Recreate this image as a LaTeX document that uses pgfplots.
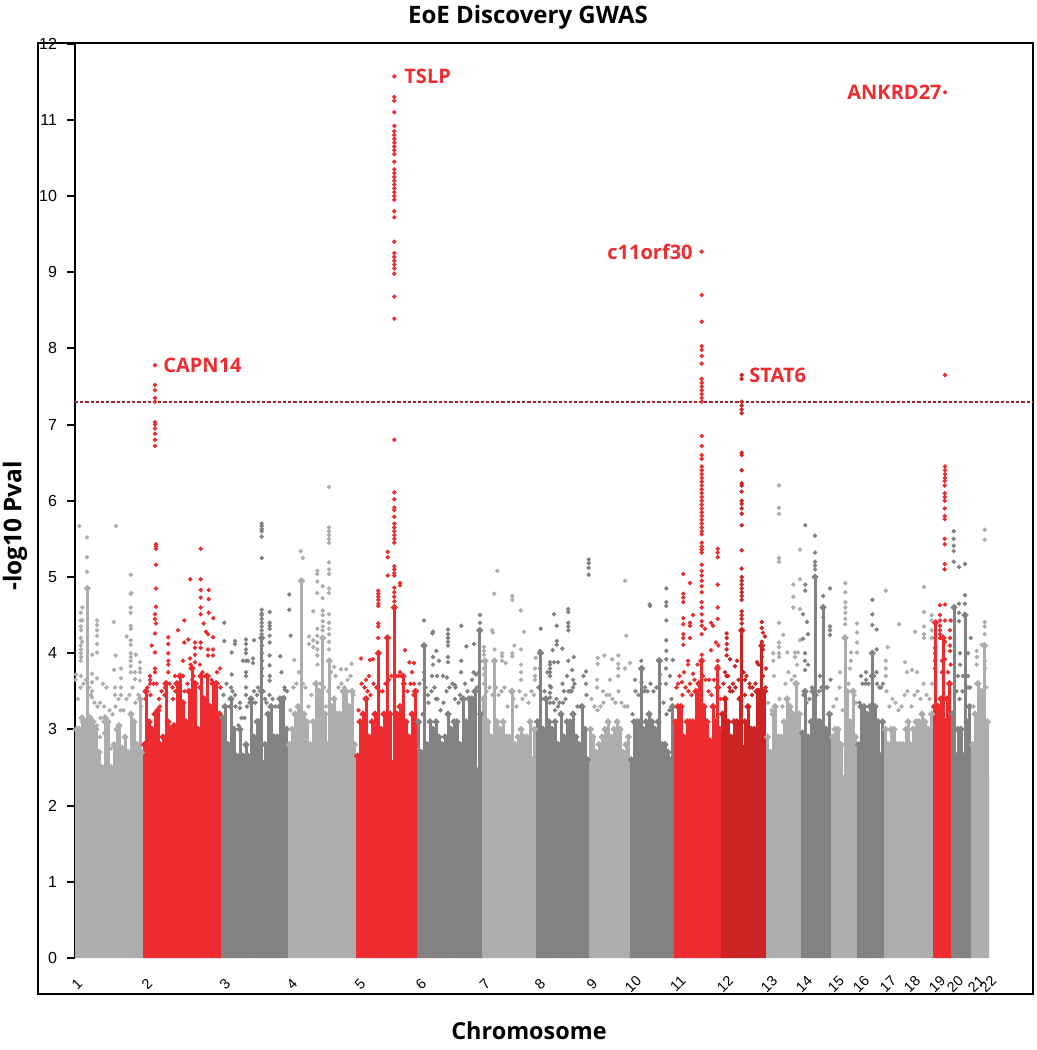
\documentclass[border=0pt]{standalone}
\usepackage{pgfplots}
\pgfplotsset{compat=1.18}
\usepackage{fontspec}
\setmainfont{Liberation Sans}
\newfontfamily\myr{Open Sans}
\definecolor{lg}{HTML}{ADADAD}
\definecolor{dg}{HTML}{828282}
\definecolor{rd}{HTML}{EE2C2F}
\definecolor{dr}{HTML}{CC2424}
\definecolor{thr}{HTML}{A5262A}
\pgfplotsset{
 cb/.style={ycomb,color=#1,line width=1.5pt,mark=*,mark size=.8pt,mark options={draw=none,fill=#1}},
 ba/.style={fill=#1,draw=none,mark=none},
 pt/.style={only marks,color=#1,mark=*,mark size=.9pt,mark options={draw=none,fill=#1}},
}
\begin{document}
\begin{tikzpicture}
\useasboundingbox (-37.5pt,-46pt) rectangle (481pt,479pt);
\begin{axis}[at={(-18.5pt,-18pt)},anchor=south west,x=0.5pt,y=38.1pt,xmin=38,xmax=1033,ymin=-0.473,ymax=12.01,xtick=\empty,ytick=\empty,axis line style={line width=1pt}]
\addplot[draw=none] coordinates {(38,0)(1033,0)};
\end{axis}
\begin{axis}[at={(0,0)},anchor=south west,x=0.5pt,y=38.1pt,xmin=75,xmax=1033,ymin=0,ymax=12,clip=false,
 axis y line=left,axis x line=bottom,axis line style={-,line width=1pt},x axis line style={draw=none},
 ytick={0,1,...,12},ytick style={line width=1pt,black},tick align=outside,major tick length=4pt,
 yticklabel style={font=\fontsize{8}{8}\selectfont,xshift=-1.5pt},
 /pgf/number format/assume math mode=true,
 xtick={77,147,225,292,360,421,485,540,592,633,678,725,769,804,836,861,888,912,937,955,976,988},
 xticklabels={1,2,3,4,5,6,7,8,9,10,11,12,13,14,15,16,17,18,19,20,21,22},
 xtick style={draw=none},
 xticklabel style={font=\fontsize{7.2}{7.2}\selectfont,yshift=-9pt,rotate=45,anchor=center},
]
% solid mass
\addplot[ba=lg] coordinates {(75,0)(75,2.4)(143,2.4)(143,0)} \closedcycle;
\addplot[ba=rd] coordinates {(143,0)(143,2.7)(221,2.7)(221,0)} \closedcycle;
\addplot[ba=dg] coordinates {(221,0)(221,2.6)(288,2.6)(288,0)} \closedcycle;
\addplot[ba=lg] coordinates {(288,0)(288,2.6)(356,2.6)(356,0)} \closedcycle;
\addplot[ba=rd] coordinates {(356,0)(356,2.6)(417,2.6)(417,0)} \closedcycle;
\addplot[ba=dg] coordinates {(417,0)(417,2.5)(482,2.5)(482,0)} \closedcycle;
\addplot[ba=lg] coordinates {(482,0)(482,2.5)(536,2.5)(536,0)} \closedcycle;
\addplot[ba=dg] coordinates {(536,0)(536,2.5)(589,2.5)(589,0)} \closedcycle;
\addplot[ba=lg] coordinates {(589,0)(589,2.4)(630,2.4)(630,0)} \closedcycle;
\addplot[ba=dg] coordinates {(630,0)(630,2.5)(674,2.5)(674,0)} \closedcycle;
\addplot[ba=rd] coordinates {(674,0)(674,2.8)(721,2.8)(721,0)} \closedcycle;
\addplot[ba=dr] coordinates {(721,0)(721,2.8)(766,2.8)(766,0)} \closedcycle;
\addplot[ba=lg] coordinates {(766,0)(766,2.6)(801,2.6)(801,0)} \closedcycle;
\addplot[ba=dg] coordinates {(801,0)(801,2.8)(831,2.8)(831,0)} \closedcycle;
\addplot[ba=lg] coordinates {(831,0)(831,2.4)(857,2.4)(857,0)} \closedcycle;
\addplot[ba=dg] coordinates {(857,0)(857,2.7)(884,2.7)(884,0)} \closedcycle;
\addplot[ba=lg] coordinates {(884,0)(884,2.5)(909,2.5)(909,0)} \closedcycle;
\addplot[ba=lg] coordinates {(909,0)(909,2.5)(933,2.5)(933,0)} \closedcycle;
\addplot[ba=rd] coordinates {(933,0)(933,2.6)(951,2.6)(951,0)} \closedcycle;
\addplot[ba=dg] coordinates {(951,0)(951,2.7)(971,2.7)(971,0)} \closedcycle;
\addplot[ba=lg] coordinates {(971,0)(971,2.4)(980,2.4)(980,0)} \closedcycle;
\addplot[ba=lg] coordinates {(980,0)(980,2.4)(989,2.4)(989,0)} \closedcycle;
% columns
\addplot[cb=lg] coordinates {(76.5,3.0)(79,3.0)(82,3.15)(85,3.1)(87.3,4.85)(90,3.15)(93,3.1)(96,3.0)(99,2.7)(102,2.5)(105,3.15)(108,3.1)(111,2.5)(114,2.8)(117,3.0)(119,3.05)(122,2.75)(125,2.9)(128,2.7)(131,3.2)(134,3.1)(137,2.8)(140,3.4)(141.5,2.7)};
\addplot[cb=rd] coordinates {(144.5,2.8)(146,3.5)(149,3.1)(152,3.0)(155,3.2)(158,3.25)(160,2.8)(163,2.9)(166,3.6)(168,3.1)(171,3.0)(174,3.05)(177,3.6)(180,3.7)(183,3.35)(186,3.1)(189,3.5)(192,3.8)(195,3.6)(198,3.0)(201,3.7)(204,3.4)(207,3.7)(210,3.3)(213,3.6)(216,3.6)(219.5,3.2)};
\addplot[cb=dg] coordinates {(222.5,3.15)(225,3.3)(228,2.8)(231,3.4)(234,3.0)(237,2.65)(240,3.0)(243,2.65)(246,2.8)(248,2.65)(251,3.4)(254,2.9)(257,3.1)(259,3.1)(261.7,4.2)(265,2.8)(268,3.2)(271,3.3)(274,2.9)(277,2.9)(280,3.4)(283,3.4)(286.5,3.0)};
\addplot[cb=lg] coordinates {(289.5,2.8)(292,3.0)(295,3.2)(298,3.3)(301.5,4.95)(304,3.2)(307,3.1)(310,2.8)(313,3.1)(316,3.6)(319,3.5)(322.7,4.2)(325,3.2)(327,2.8)(329.3,3.9)(332,3.3)(334,3.4)(337,3.2)(340,3.2)(343,3.5)(346,3.5)(349,3.3)(352,3.5)(354.5,2.8)};
\addplot[cb=rd] coordinates {(357.5,2.65)(360,3.1)(363,3.2)(366,3.4)(369,2.9)(372,3.1)(375,3.2)(378.3,4.0)(381,3.0)(384,3.2)(387.5,4.2)(390,3.2)(394.3,4.6)(397,3.2)(400,3.3)(403,3.7)(406,3.1)(409,2.9)(412,3.2)(415.5,3.5)};
\addplot[cb=dg] coordinates {(418.5,3.1)(421,2.7)(424,4.1)(427,2.8)(430,3.1)(433,3.0)(436,3.1)(439,2.9)(442,2.8)(445,2.9)(448,3.2)(451,3.0)(454,3.1)(457,3.1)(460,2.8)(463,3.4)(466,3.1)(469,3.4)(472,3.4)(475,3.5)(479.7,4.3)(480.5,3.2)};
\addplot[cb=lg] coordinates {(483.5,3.4)(485,3.9)(488,3.1)(491,2.9)(494.5,3.9)(497,3.1)(500,3.0)(503,3.1)(506,2.9)(509,2.9)(512,3.5)(515,2.8)(518,2.9)(521,3.0)(524,2.9)(527,2.9)(530,3.1)(533,2.6)(534.5,3.0)};
\addplot[cb=dg] coordinates {(537.5,3.1)(540.5,4.0)(543,3.0)(546,3.4)(549,3.1)(552,3.0)(555,3.1)(558,2.8)(561,3.2)(564,2.9)(567,3.1)(570,3.1)(573,3.2)(576,2.9)(579,2.8)(582,3.3)(585,3.0)(587.5,2.6)};
\addplot[cb=lg] coordinates {(590.5,3.0)(593,2.9)(596,2.7)(599,2.8)(602,2.9)(605,3.0)(608,3.1)(611,2.9)(614,3.0)(617,3.1)(620,3.0)(623,2.7)(626,2.8)(628.5,2.9)};
\addplot[cb=dg] coordinates {(631.5,2.6)(634,3.1)(637,3.1)(640,3.1)(641.7,3.8)(643,3.0)(646,3.1)(649,3.2)(652,3.1)(655,3.0)(658,3.1)(659.5,3.9)(662,2.8)(665,2.8)(668,2.7)(671,2.6)(672.5,3.3)};
\addplot[cb=rd] coordinates {(675.5,3.1)(678,3.3)(681,3.3)(684,2.9)(687,3.1)(690,3.1)(693,3.1)(696,3.5)(699,3.6)(701.7,3.9)(704,3.3)(707,3.1)(710,2.85)(713,3.3)(715,3.1)(717.5,3.8)(719.5,3.0)};
\addplot[cb=dr] coordinates {(722.5,3.2)(725,3.4)(728,3.1)(731,2.9)(734,3.1)(737,3.1)(740,3.4)(741.7,4.3)(745,3.1)(748,3.3)(751,3.0)(754,3.0)(757,3.5)(759,3.5)(761.7,4.1)(764.5,3.5)};
\addplot[cb=lg] coordinates {(767.5,2.9)(770,2.7)(773,3.2)(775,3.3)(778,2.9)(781,2.9)(784,3.1)(787,3.4)(790,3.3)(793,3.2)(796,3.6)(799.5,3.2)};
\addplot[cb=dg] coordinates {(802.5,2.95)(805,3.5)(808,2.9)(811,3.1)(813,3.5)(815,5.0)(818,3.1)(820,3.1)(823,4.6)(826,3.0)(829.5,3.2)};
\addplot[cb=lg] coordinates {(832.5,2.9)(835,3.0)(838,3.0)(841,2.8)(845,4.2)(847,3.5)(850,3.1)(853,3.5)(855.5,2.9)};
\addplot[cb=dg] coordinates {(858.5,2.8)(861,3.3)(864,3.3)(867,3.2)(870,3.3)(872.3,4.0)(875,3.3)(878,3.1)(882.5,3.1)};
\addplot[cb=lg] coordinates {(885.5,3.0)(888,2.8)(891,3.0)(894,3.0)(897,2.8)(900,2.8)(903,2.8)(906,3.0)(908,3.1)(910,2.8)(913,3.0)(916,3.1)(919,3.1)(922,3.2)(925,3.1)(928,3.0)(931.5,3.2)};
\addplot[cb=rd] coordinates {(934.5,3.3)(935.5,4.4)(938,3.3)(941,3.4)(943,4.2)(945,3.1)(947,3.4)(949.5,3.6)};
\addplot[cb=dg] coordinates {(952.5,3.2)(954,4.6)(958,3.0)(961,3.0)(965,4.5)(967,3.1)(969.5,3.3)};
\addplot[cb=lg] coordinates {(972.5,2.8)(975,3.2)(978,3.6)(981,3.5)(984.5,4.1)(987.5,3.1)};
% light dots
\addplot[pt=lg] coordinates {(79.3,5.67)(87,5.52)(87,5.26)(87,5.07)(130.7,5.03)(130.7,4.78)(131.5,4.79)(130.7,4.6)(130.7,4.53)(130.7,4.36)(130.7,4.32)(126.7,4.22)(130.7,4.17)(130.7,4.11)(130.7,4.0)(130.7,3.95)(130.7,3.9)(130.7,3.83)(130.7,3.75)(116,5.67)(113.7,4.41)(115.7,3.97)(114,3.78)(121,3.8)(121,3.67)(97,4.43)(97,4.37)(97,4.3)(97,4.23)(97,4.12)(97,4.01)(92.3,3.98)(82.3,4.6)(80.7,4.53)(80.7,4.43)(82.3,4.43)(80.7,4.35)(81,4.3)(80.7,4.2)(82,4.15)(80.7,4.1)(81,4.05)(80.7,4.0)(81,3.95)(80.7,3.9)(81,3.7)(97,3.67)(92,3.73)(92,3.62)(92,3.5)(92,3.42)(103,3.6)(135.7,3.98)(140,3.88)(140,3.8)(135,3.75)(140,3.75)(140,3.64)(135,3.66)(76,3.72)(75.5,3.65)(115,3.55)(115,3.45)(121,3.55)(121,3.45)(104,3.3)(100,3.35)(97,3.05)(100,2.9)(104,2.95)(108,2.85)(111,2.75)(82,3.1)
(78,3.4)(80.5,3.55)(83.5,3.6)(86,3.65)(89,3.55)(91,3.45)(94.5,3.35)(97.5,3.3)(100.5,3.15)(103.5,3.1)(106.5,3.55)(109.5,3.25)(112.5,3.2)(115.5,3.3)(118.5,3.4)(120.5,3.25)(123.5,3.25)(126.5,3.4)(129.5,3.45)(132.5,3.55)(135.5,3.35)(138.5,3.45)(141,3.3)
(290.5,3.25)(293.5,3.55)(296.5,3.6)(299,3.75)(303,3.6)(305.5,3.55)(308.5,3.3)(311.5,3.45)(314.5,3.6)(317.5,3.85)(320.5,3.6)(324,3.55)(326,3.3)(328,3.5)(331,3.75)(333,3.4)(335.5,3.7)(338.5,3.55)(341.5,3.6)(344.5,3.55)(347.5,3.65)(350.5,3.7)(353.5,3.45)
(484,3.6)(486.5,3.5)(489.5,3.55)(492.5,3.45)(496,3.55)(498.5,3.45)(501.5,3.5)(504.5,3.55)(507.5,3.3)(510.5,3.5)(513.5,3.4)(516.5,3.3)(519.5,3.5)(522.5,3.4)(525.5,3.45)(528.5,3.35)(531.5,3.5)(534,3.45)
(591.5,3.4)(594.5,3.3)(597.5,3.25)(600.5,3.3)(603.5,3.35)(606.5,3.45)(609.5,3.45)(612.5,3.4)(615.5,3.35)(618.5,3.5)(621.5,3.35)(624.5,3.3)(627.5,3.3)
(768,3.35)(771.5,3.25)(774,3.7)(776.5,3.3)(779.5,3.4)(782.5,3.3)(785.5,3.6)(788.5,3.75)(791.5,3.65)(794.5,3.7)(797.5,3.6)(800,3.2)
(833.5,3.3)(836.5,3.4)(839.5,3.55)(842.5,3.25)(848.5,3.6)(851.5,3.5)(854.5,3.45)(856,3.35)
(886.5,3.5)(889.5,3.3)(892.5,3.4)(895.5,3.35)(898.5,3.25)(901.5,3.3)(904.5,3.45)(907.5,3.5)(911.5,3.3)(914.5,3.45)(917.5,3.5)(920.5,3.4)(923.5,3.6)(926.5,3.45)(929.5,3.4)(932,3.6)
(973.5,3.3)(976.5,3.6)(979,3.5)(982.5,3.5)(986,3.55)
(984.7,5.62)(984.7,5.49)(984.7,4.41)(984.7,4.35)(984.7,4.25)(976.7,4.03)(981.7,4.11)(976.7,3.95)(985,3.9)(985,3.8)(976.7,3.85)
(300.7,5.34)(302.7,5.25)(313.3,4.55)(317.3,5.08)(317.3,5.04)(317.3,4.94)(317.3,4.79)(322.7,4.88)(322.7,4.72)(322.7,4.56)(322.7,4.5)(322.7,4.42)(322.7,4.35)(322.7,4.3)(309,4.22)(309,4.12)(313.3,4.17)(313.3,4.08)(317.3,4.32)(317.3,4.23)(317.3,4.14)(317.3,4.05)(317.3,3.97)(329,6.18)(329,5.65)(329,5.6)(329,5.55)(329,5.5)(329,5.45)(329,5.19)(329,5.1)(329,5.04)(329,4.85)(329,4.79)(329,4.51)(329,4.4)(329,4.32)(329,4.25)(329,4.15)(329,4.05)(334,3.82)(341,3.79)(294.3,3.91)(346.3,3.79)(351.7,3.86)
(497.3,5.08)(494.3,4.78)(512.3,4.75)(512.3,4.7)(520.7,4.56)(524,4.28)(492,4.3)(493,4.27)(514.3,4.1)(521,4.05)(512.3,4.0)(512.3,3.96)(484,4.08)(484,4.03)(484,3.98)(484,3.8)(484,3.72)(494.5,4.05)(502,4.0)(502,3.96)(502,3.9)(505.7,3.87)(535.7,3.94)(535,3.8)(535,3.7)(535,3.65)(521,3.85)(521,3.75)(521,3.65)
(597.7,3.94)(597.7,3.86)(604.3,3.97)(612.3,3.92)(618.3,3.97)(618.3,3.86)(618.3,3.8)(618.3,3.7)(625,4.95)(626.3,4.23)(625,3.8)(630,3.87)(597,3.65)(597,3.55)(603,3.5)(610,3.65)
(779,6.2)(779,5.91)(779,5.83)(779,5.25)(779,5.2)(793.3,4.9)(793.3,4.74)(793.3,4.6)(800,4.97)(800,5.36)(800,4.58)(779,4.4)(783.3,4.24)(779,4.14)(779,4.08)(779,4.0)(779,3.95)(773.3,4.0)(773.3,3.9)(787.3,4.01)(800,4.17)(798,4.01)(795,4.01)(795,3.95)(797,3.85)
(845.3,4.92)(845.3,4.8)(845.3,4.67)(845.3,4.6)(845.3,4.53)(845.3,4.45)(845.3,4.38)(857,4.39)(857,4.27)(857,4.14)(857,4.01)(851,4.01)(851,3.9)(850,3.8)(840,3.75)
(885.7,4.82)(887.7,4.08)(885.7,3.9)(885.7,3.8)(885.7,3.7)(899,4.38)(905,3.88)(907,3.75)(915,4.28)(917,3.75)(912,3.78)(924,4.87)(924,4.54)(924,4.35)(924,4.25)(924,4.2)(931.7,4.5)(931.7,4.43)(931.7,4.3)(931.7,4.2)};
% red dots
\addplot[pt=rd] coordinates {(155,7.78)(155,7.52)(155,7.45)(155,7.35)(155,7.3)(155,7.03)(155,7.0)(155,6.95)(155,6.88)(155,6.8)(155,6.72)(156,5.43)(156,5.4)(156,5.37)(156,5.16)(156,4.85)(156,4.61)(155,4.51)(155,4.45)(156,4.39)(155,4.26)(151.7,4.1)(155,4.01)(168.3,4.21)(168.3,4.12)(178,4.3)(184.3,4.43)(190.3,4.97)(200.7,5.37)(200.7,4.97)(200.7,4.83)(200.7,4.73)(200.7,4.6)(200.7,4.51)(208.7,4.83)(208.7,4.71)(208.7,4.53)(213.3,4.46)(203.7,4.39)(206,4.28)(208,4.25)(213,4.21)(184.3,4.14)(188.3,4.18)(195,4.14)(195,4.07)(200.7,4.14)(200.7,4.07)(208,4.05)(208,3.97)(213,4.05)(213,3.97)(168.3,4.0)(168.3,3.9)(168.3,3.85)(168.3,3.75)(183,3.9)(190,3.93)(195,3.98)(195,3.88)(200,3.85)(155,3.8)(155,3.75)(150,3.7)(150,3.65)(150,3.6)(165,3.55)(175,3.7)(183,3.7)(192,3.65)(220,3.8)(217,3.75)(173,3.4)(160,3.3)
(145.5,3.4)(147.5,3.55)(150.5,3.45)(153.5,3.6)(156.5,3.6)(159,3.4)(161.5,3.5)(164.5,3.45)(169.5,3.6)(172.5,3.55)(175.5,3.5)(178.5,3.6)(181.5,3.7)(184.5,3.5)(187.5,3.6)(190.5,3.85)(193.5,3.7)(196.5,3.6)(199.5,3.55)(202.5,3.75)(205.5,3.7)(208.5,3.7)(211.5,3.65)(214.5,3.55)(217.5,3.6)(220.5,3.55)
(394.3,6.8)(394.3,6.11)(394.3,6.02)(394.3,5.91)(394.3,5.88)(394.3,5.79)(394.3,5.7)(394.3,5.65)(394.3,5.6)(394.3,5.55)(394.3,5.5)(394.3,5.45)(394.3,5.14)(394.3,5.1)(394.3,5.05)(394.3,5.02)(394.3,4.86)(394.3,4.8)(394.3,4.74)(394.3,4.68)(387.7,5.33)(387.7,5.26)(387.7,5.02)(400,4.92)(400,4.89)(378.3,4.82)(378.3,4.78)(378.3,4.74)(378.3,4.7)(378.3,4.65)(378.3,4.62)(378.3,4.39)(378.3,4.35)(378.3,4.2)(361,3.93)(370,3.91)(373,3.92)(405,4.04)(409.3,3.88)(414,3.87)(400,3.75)(403,3.6)(412,3.75)(414,3.6)(369,3.7)(366,3.65)
(358.5,3.25)(361.5,3.6)(364.5,3.55)(367.5,3.5)(370.5,3.45)(373.5,3.6)(376.5,3.55)(379.5,3.5)(382.5,3.5)(385.5,3.6)(389,3.65)(391.5,3.7)(396,3.7)(398.5,3.7)(401.5,3.7)(404.5,3.6)(407.5,3.5)(410.5,3.6)(413.5,3.45)(416.5,3.5)
(394.3,8.39)(394.3,8.68)(394.3,8.98)(394.3,9.05)(394.3,9.1)(394.3,9.15)(394.3,9.2)(394.3,9.25)(394.3,9.4)(394.3,9.72)(394.3,9.8)(394.3,9.95)(394.3,10.0)(394.3,10.05)(394.3,10.1)(394.3,10.15)(394.3,10.2)(394.3,10.25)(394.3,10.3)(394.3,10.35)(394.3,10.45)(394.3,10.55)(394.3,10.6)(394.3,10.65)(394.3,10.7)(394.3,10.75)(394.3,10.8)(394.3,10.85)(394.3,10.92)(394.3,11.1)(394.3,11.25)(394.3,11.3)(394.3,11.57)
(701.7,9.27)(701.7,8.7)(701.7,8.35)(701.7,8.03)(701.7,7.98)(701.7,7.9)(701.7,7.8)(701.7,7.6)(701.7,7.55)(701.7,7.5)(701.7,7.45)(701.7,7.4)(701.7,7.35)(701.7,7.3)(701.7,6.85)(701.7,6.72)(701.7,6.6)(701.7,6.55)(701.7,6.45)(701.7,6.4)(701.7,6.35)(701.7,6.3)(701.7,6.25)(701.7,6.2)(701.7,6.15)(701.7,6.1)(701.7,6.05)(701.7,6.0)(701.7,5.95)(701.7,5.9)(701.7,5.85)(701.7,5.8)(701.7,5.75)(701.7,5.7)(701.7,5.65)(701.7,5.6)(701.7,5.56)(701.7,5.45)(701.7,5.4)(701.7,5.36)(701.7,5.32)(701.7,5.16)(701.7,5.08)(701.7,5.02)(701.7,4.95)(701.7,4.88)(701.7,4.8)(701.7,4.67)(701.7,4.6)(701.7,4.51)(701.7,4.42)(701.7,4.36)(701.7,4.25)(701.7,3.98)
(683.3,5.04)(683.3,4.78)(683.3,4.73)(683.3,4.67)(683.3,4.46)(683.3,4.38)(683.3,4.25)(683.3,4.2)(683.3,4.11)(690,4.92)(690,4.4)(690,4.36)(690,4.2)(693,4.5)(705,4.32)(711,4.4)(713,4.36)(717.7,5.37)(717.7,5.32)(717.7,5.26)(717.7,4.9)(717.7,4.6)(717.7,4.45)(716,4.14)(718.3,4.1)(711,4.04)(717.7,3.9)(717.7,3.83)(688,3.9)(688,3.85)(684,3.75)(693,3.73)(678,3.6)(682,3.62)(690,3.6)(709,3.65)
(676.5,3.55)(679.5,3.7)(682.5,3.45)(685.5,3.55)(688.5,3.5)(691.5,3.45)(694.5,3.65)(697.5,3.85)(703,3.7)(705.5,3.65)(708.5,3.5)(711.5,3.45)(714,3.65)(716.5,3.55)(719,3.55)(720.5,3.4)
(945,11.36)(945,7.65)(945,6.45)(945,6.4)(945,6.35)(945,6.3)(944.7,6.26)(944.7,6.2)(944.7,6.1)(944.7,6.05)(944.7,6.0)(944.7,5.9)(944.7,5.8)(944.7,5.76)(944.7,5.5)(944.7,5.43)(944.7,5.17)(944.7,5.1)(940,4.63)(945,4.64)(940,4.5)(940,4.43)(940,4.36)(940,4.3)(940,4.25)(940,4.2)(935,4.2)(935,4.07)(935,4.0)(935,3.9)(935,3.8)(945,4.43)(950.7,4.43)(950,4.3)(950,4.2)(950,4.1)(950,4.03)(945,4.15)(945,3.92)(950.7,3.85)(942,3.9)(942,3.75)(948,3.75)};
% dark red dots
\addplot[pt=dr] coordinates {(741.7,7.65)(741.7,7.6)(741.7,7.3)(741.7,7.25)(741.7,7.2)(741.7,7.15)(741.7,6.63)(741.7,6.6)(741.7,6.4)(741.7,6.23)(741.7,6.2)(741.7,6.12)(741.7,6.0)(741.7,5.96)(741.7,5.9)(741.7,5.83)(741.7,5.68)(741.7,5.35)(741.7,5.11)(741.7,5.0)(741.7,4.95)(741.7,4.9)(741.7,4.85)(741.7,4.8)(741.7,4.75)(741.7,4.7)(741.7,4.55)(741.7,4.5)(741.7,4.45)(741.7,4.39)(726.7,4.26)(726.7,4.2)(726.7,4.12)(726.7,4.05)(726.7,3.97)(730,3.92)(735,3.83)(737,3.9)(761.7,4.41)(761.7,4.33)(763,4.27)(765,4.22)(761.7,4.15)(763,4.05)(761.7,3.95)(757,3.88)(766,3.8)(725,3.75)(728,3.7)(733,3.6)(745,3.65)(750,3.55)(745,3.45)(752,3.45)(730,3.5)
(723.5,3.6)(726.5,3.7)(729.5,3.55)(732.5,3.5)(735.5,3.55)(738.5,3.65)(743.5,3.75)(746.5,3.7)(749.5,3.6)(752.5,3.55)(755.5,3.6)(758.5,3.85)(763,3.7)(765.5,3.55)};
% dark dots
\addplot[pt=dg] coordinates {(224.3,4.4)(224.3,4.16)(235,4.16)(235,4.12)(231.7,4.01)(231.7,3.72)(246,4.18)(246,4.12)(246,4.05)(246,4.0)(246,3.9)(246,3.75)(246,3.7)(243,3.9)(248,3.9)(253,3.93)(253,3.87)(254,4.17)(261.7,5.7)(261.7,5.67)(261.7,5.63)(261.7,5.6)(261.7,5.53)(261.7,5.25)(261.7,4.57)(261.7,4.52)(261.7,4.5)(261.7,4.45)(261.7,4.4)(261.7,4.35)(261.7,4.3)(261.7,4.25)(269.7,4.54)(269.7,4.4)(269.7,4.36)(269.7,4.32)(269.7,4.23)(269.7,4.14)(269.7,3.97)(269.7,3.84)(269.7,3.7)(269.7,3.64)(280.3,3.96)(262,4.1)(262,4.0)(262,3.9)(262,3.8)(262,3.7)(289.3,4.77)(289.3,4.57)(290.7,4.23)(231,3.55)(235,3.45)(240,3.35)(246,3.55)(246,3.45)(254,3.5)(257,3.45)(265,3.4)(285,3.52)(284,3.42)(240,3.28)
(223.5,3.45)(226.5,3.6)(229.5,3.3)(232.5,3.5)(235.5,3.3)(238.5,3.05)(241.5,3.15)(244.5,3.15)(247,3.3)(249.5,3.35)(252.5,3.35)(255.5,3.35)(258,3.55)(260,3.5)(263.5,3.5)(266.5,3.35)(269.5,3.45)(272.5,3.4)(275.5,3.3)(278.5,3.3)(281.5,3.75)(284.5,3.55)(287,3.5)
(424,4.43)(432.3,4.26)(433,4.28)(436.3,4.03)(433,3.95)(433,3.85)(439,3.9)(448,4.31)(448,4.25)(448,4.2)(448,4.15)(448,4.1)(448,3.95)(448,3.88)(461.3,4.36)(466.3,4.09)(474,4.12)(461.3,3.9)(480,4.5)(480,4.4)(480,3.89)(479,3.75)(424,3.75)(424,3.65)(432,3.7)(437,3.7)(447,3.68)(455,3.58)(461,3.75)(465,3.6)(472,3.65)(476,3.72)(443,3.7)(436,3.4)(428,3.45)(455,3.4)(460,3.45)
(419.5,3.6)(422.5,3.2)(425.5,3.55)(428.5,3.35)(431.5,3.5)(434.5,3.55)(437.5,3.4)(440.5,3.25)(443.5,3.35)(446.5,3.5)(449.5,3.55)(452.5,3.6)(455.5,3.55)(458.5,3.35)(461.5,3.4)(464.5,3.4)(467.5,3.5)(470.5,3.4)(473.5,3.75)(477,3.55)
(540.7,4.32)(554,4.51)(556.7,4.36)(556.7,4.16)(556.7,4.11)(552.7,4.04)(562.3,4.06)(568.3,4.58)(568.3,4.54)(568.3,4.4)(568.3,4.35)(568.3,4.3)(573.7,3.95)(568.3,3.9)(572.3,3.78)(586,3.76)(550,3.88)(550,3.85)(550,3.8)(550,3.75)(550,3.7)(540,4.03)(540,3.8)(550,3.57)(550,3.48)(550,3.42)(550,3.35)(558,3.88)(554,3.88)(567,3.7)(573,3.65)(573,3.55)(586,3.6)(564,3.5)(570,3.5)(563,3.35)(558,3.3)(555,3.25)
(538.5,3.55)(542,3.4)(544.5,3.5)(547.5,3.75)(551,3.55)(553.5,3.35)(556.5,3.4)(559.5,3.35)(562.5,3.6)(565.5,3.4)(568.5,3.5)(571.5,3.5)(574.5,3.6)(577.5,3.3)(580.5,3.3)(583.5,3.7)(586.5,3.45)
(588.7,5.23)(588.7,5.18)(588.7,5.12)(588.7,5.03)(649.7,4.64)(650,4.62)(666.3,4.85)(666.3,4.67)(666.3,4.62)(666.3,4.43)(666.3,4.17)(666.3,4.03)(666.3,3.92)(658.3,3.91)(641.3,3.9)(641.3,3.78)(672.7,3.91)(666,3.8)(660,3.72)(670,3.7)(635,3.65)(641.5,3.62)(645,3.55)(660,3.6)(666,3.6)
(632.5,3.2)(635.5,3.5)(638.5,3.45)(644.5,3.5)(647.5,3.5)(650.5,3.6)(653.5,3.5)(656.5,3.55)(663.5,3.35)(666.5,3.2)(669.5,3.25)(671.5,3.4)
(805.3,5.68)(815,5.54)(815,5.32)(815,5.2)(815,5.15)(815,5.1)(805.3,4.9)(805.3,4.82)(803,4.51)(807,4.41)(808,4.25)(803,4.19)(830,4.85)(823.3,4.75)(823.3,4.58)(823.3,4.47)(830,4.35)(830,4.3)(830,4.24)(805,4.0)(805,3.9)(808,3.85)(805,3.78)(820,3.7)(815,3.5)(826,3.55)(823,3.5)
(803.5,3.45)(806.5,3.35)(809.5,3.4)(812,3.55)(816.5,3.45)(819,3.5)(821.5,3.55)(827.5,3.55)(830.5,3.65)
(872.3,4.7)(872.3,4.51)(872.3,4.37)(876.7,4.31)(876.7,4.05)(866,3.65)(861,3.7)(866,3.75)(877,3.6)(881,3.55)
(859.5,3.35)(862.5,3.6)(865.5,3.6)(868.5,3.6)(871,3.7)(874,3.7)(876.5,3.75)(879.5,3.55)(883,3.6)
(953.7,5.6)(953.7,5.5)(953.7,5.41)(953.7,5.34)(953.7,5.2)(959,5.13)(965,5.17)(959,4.65)(959,4.53)(959,4.42)(965,4.76)(965,4.65)(970.7,4.2)(968,4.0)(960,4.0)(960,3.85)(968,3.7)(958,3.7)(970,3.55)(956.5,3.5)(959.5,3.4)(962.5,3.5)(968,3.55)(963,3.7)};
% threshold
\addplot[color=thr,dash pattern=on 1.6pt off 1pt,line width=1pt,mark=none] coordinates {(75,7.3)(1033,7.3)};
% labels
\node[text=rd,inner sep=0pt,font=\myr\bfseries\fontsize{10}{10}\selectfont,anchor=west] at (axis cs:163,7.78) {CAPN14};
\node[text=rd,inner sep=0pt,font=\myr\bfseries\fontsize{10}{10}\selectfont,anchor=west] at (axis cs:404,11.57) {TSLP};
\node[text=rd,inner sep=0pt,font=\myr\bfseries\fontsize{10}{10}\selectfont,anchor=east] at (axis cs:693,9.27) {c11orf30};
\node[text=rd,inner sep=0pt,font=\myr\bfseries\fontsize{10}{10}\selectfont,anchor=west] at (axis cs:749,7.65) {STAT6};
\node[text=rd,inner sep=0pt,font=\myr\bfseries\fontsize{10}{10}\selectfont,anchor=east] at (axis cs:942,11.36) {ANKRD27};
\node[font=\myr\bfseries\fontsize{12}{12}\selectfont] at (axis cs:528,12.34) {EoE Discovery GWAS};
\node[font=\myr\bfseries\fontsize{11.7}{12}\selectfont] at (axis cs:529,-0.96) {Chromosome};
\node[font=\myr\bfseries\fontsize{12.2}{12}\selectfont,rotate=90] at (axis cs:15,5.67) {-log10 Pval};
\end{axis}
\end{tikzpicture}
\end{document}
